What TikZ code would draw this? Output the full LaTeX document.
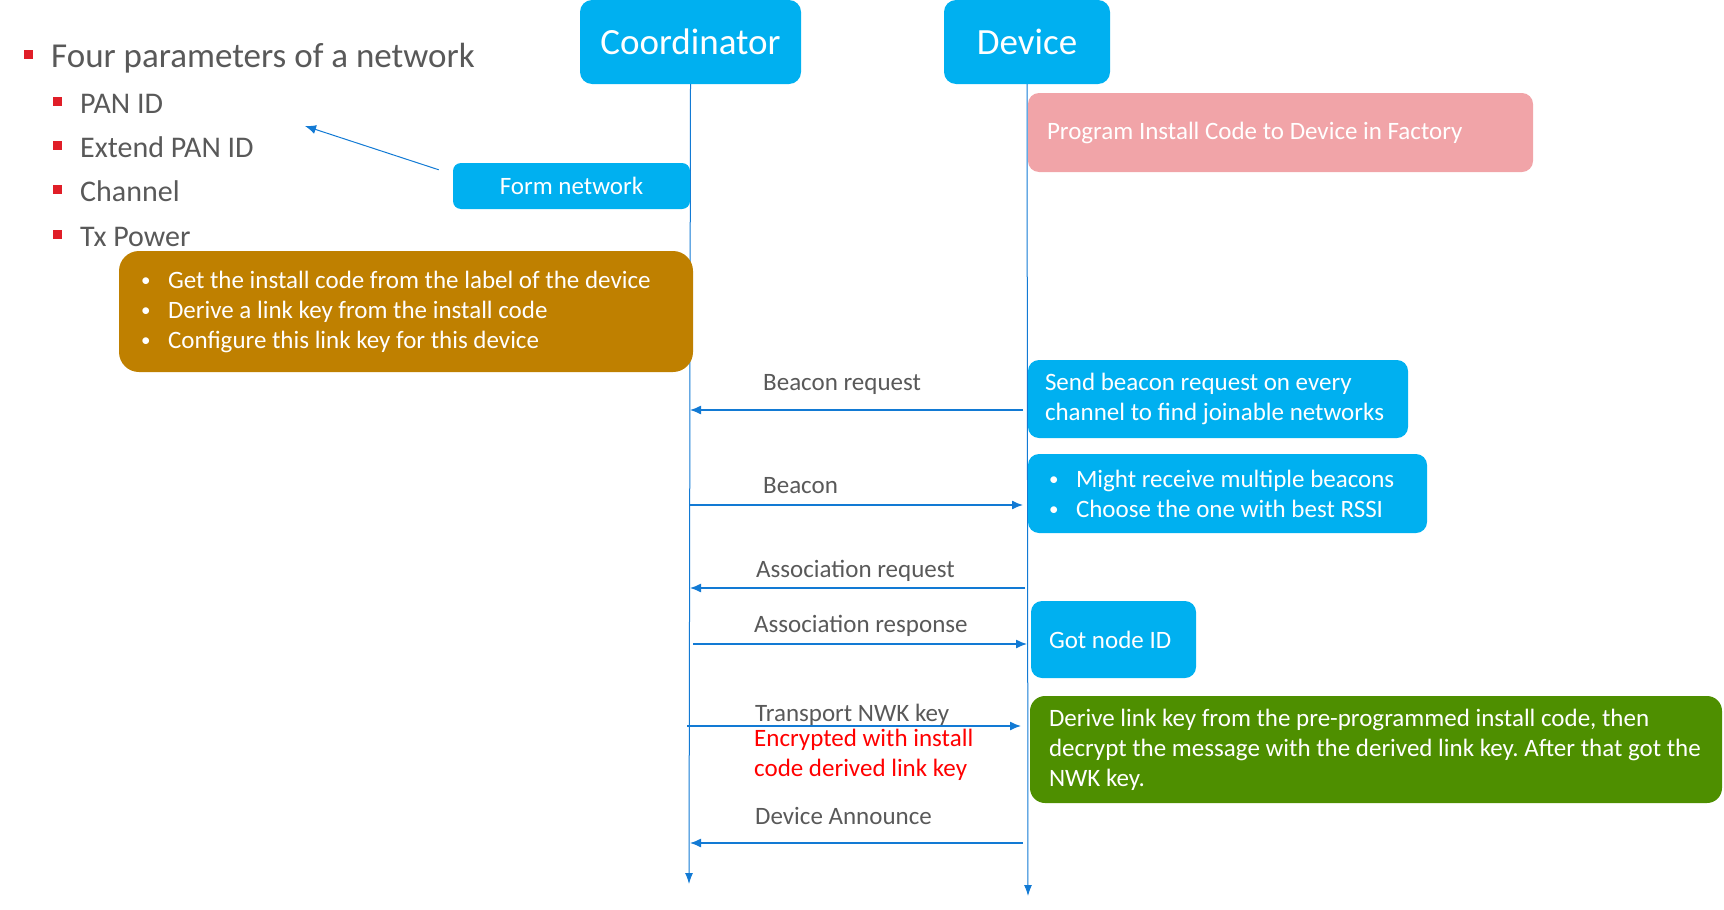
\documentclass[tikz,border=0pt]{standalone}
\usepackage{fontspec}
\setmainfont{Carlito}
\usepackage{xcolor}
\usepackage{tikz}
\usetikzlibrary{arrows.meta}
\definecolor{boxblue}{RGB}{0,176,240}
\definecolor{factorypink}{RGB}{241,164,168}
\definecolor{installgold}{RGB}{191,128,0}
\definecolor{keygreen}{RGB}{78,143,0}
\definecolor{msgblue}{RGB}{18,122,212}
\definecolor{labelgrey}{RGB}{89,89,89}
\definecolor{bulletred}{RGB}{224,30,40}
\newcommand{\BoxFont}{\fontsize{25}{30}\selectfont}
\newcommand{\ParamFont}{\fontsize{30}{36}\selectfont}
\newcommand{\TitleFont}{\fontsize{35}{42}\selectfont}
\newcommand{\ActorFont}{\fontsize{37}{44}\selectfont}
\newcommand{\ParBullet}{\makebox[27pt][l]{\textcolor{bulletred}{\rule[0.24em]{9pt}{9pt}}}}
\newcommand{\Dot}{\makebox[24pt][l]{\hspace{-3pt}\raisebox{1.5pt}{\fontsize{19}{19}\selectfont\textbullet}}}
\newcommand{\PlainSpaces}{\frenchspacing\spaceskip=\fontdimen2\font\xspaceskip=\fontdimen2\font\hyphenpenalty=10000\exhyphenpenalty=10000\relax}

\begin{document}
\begin{tikzpicture}[
  x=1pt, y=-1pt,
  actor/.style={rounded corners=12pt, fill=boxblue, text=white, font=\ActorFont, minimum height=84pt},
  box/.style={rounded corners=11pt, inner xsep=19pt, inner ysep=0pt, text=white, font=\BoxFont, align=left,
    execute at begin node=\PlainSpaces},
  msg/.style={draw=msgblue, line width=1.3pt, -{Latex[length=11pt,width=9pt]}},
  life/.style={draw=msgblue, line width=1pt, -{Latex[length=11pt,width=8pt]}},
  lbl/.style={anchor=base west, inner sep=0pt, text=labelgrey, font=\BoxFont},
  param/.style={anchor=base west, inner sep=0pt, text=labelgrey, font=\ParamFont}
]
\useasboundingbox (0,0) rectangle (1724,910);

\node[actor, minimum width=221pt] (coord) at (690.5,42) {Coordinator};
\node[actor, minimum width=166pt] (dev) at (1027,42) {Device};

\coordinate (coordEnd) at (689,884);
\coordinate (devEnd) at (1028,896);
\draw[life] (coord.south) -- (coordEnd);
\draw[life] (dev.south) -- (devEnd);

\node[param, font=\TitleFont] (params) at (24,67.5) {\ParBullet Four parameters of a network};
\node[param] (panId) at (53,113) {\ParBullet PAN ID};
\node[param] (extPanId) at (53,157) {\ParBullet Extend PAN ID};
\node[param] (channel) at (53,201) {\ParBullet Channel};
\node[param] (txPower) at (53,246) {\ParBullet Tx Power};

\node[box, fill=boxblue, align=center, inner xsep=0pt, rounded corners=8pt, minimum width=237pt, minimum height=46pt] (form) at (571.5,186) {Form network};
\coordinate (paramsTip) at (305,126);
\draw[msg, line width=1pt] ([xshift=-14pt,yshift=-7pt]form.north west) -- (paramsTip);

\node[box, fill=installgold, rounded corners=20pt, inner xsep=25pt, text width=524pt, minimum height=121pt] (install) at (406,311.5) {\Dot Get the install code from the label of the device\\ \Dot Derive a link key from the install code\\ \Dot Configure this link key for this device};

\node[box, fill=factorypink, text width=467pt, minimum height=79pt] (factory) at (1280.5,132.5) {Program Install Code to Device in Factory};
\node[box, fill=boxblue, inner xsep=17pt, text width=346pt, minimum height=78pt] (scan) at (1218,399) {Send beacon request on every\\channel to find joinable networks};
\node[box, fill=boxblue, inner xsep=24pt, text width=351pt, minimum height=79pt] (choose) at (1227.5,493.5) {\Dot Might receive multiple beacons\\ \Dot Choose the one with best RSSI};
\node[box, fill=boxblue, inner xsep=18pt, text width=129pt, minimum height=77pt] (gotId) at (1113.5,639.5) {Got node ID};
\node[box, fill=keygreen, rounded corners=15pt, inner xsep=19pt, text width=654pt, minimum height=107pt] (derive) at (1376,749.5) {Derive link key from the pre-programmed install code, then\\decrypt the message with the derived link key. After that got the\\NWK key.};

\coordinate (breqD) at (1023,410);
\coordinate (breqC) at (690,410);
\coordinate (beaconC) at (690,505);
\coordinate (beaconD) at (1023,505);
\coordinate (areqD) at (1025,588);
\coordinate (areqC) at (690,588);
\coordinate (arespC) at (693,644);
\coordinate (arespD) at (1027,644);
\coordinate (nwkC) at (687,726);
\coordinate (nwkD) at (1021,726);
\coordinate (annD) at (1023,843);
\coordinate (annC) at (690,843);

\draw[msg] (breqD) -- (breqC);
\draw[msg] (beaconC) -- (beaconD);
\draw[msg] (areqD) -- (areqC);
\draw[msg] (arespC) -- (arespD);
\draw[msg] (nwkC) -- (nwkD);
\draw[msg] (annD) -- (annC);

\node[lbl] (breqLbl) at (763,390.5) {Beacon request};
\node[lbl] (beaconLbl) at (763,493.5) {Beacon};
\node[lbl] (areqLbl) at (756,577.5) {Association request};
\node[lbl] (arespLbl) at (754,632.5) {Association response};
\node[lbl] (nwkLbl) at (755,721.5) {Transport NWK key};
\node[lbl, anchor=west, text=red, align=left] (encLbl) at (754,755) {Encrypted with install\\code derived link key};
\node[lbl] (annLbl) at (755,824.5) {Device Announce};

\end{tikzpicture}
\end{document}
